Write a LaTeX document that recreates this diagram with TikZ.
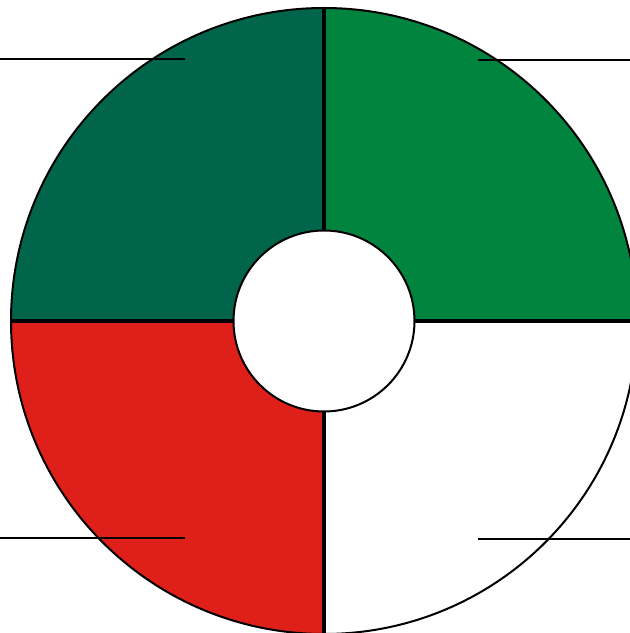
\documentclass[tikz,border=0pt]{standalone}
\usetikzlibrary{calc}
\definecolor{dkgreen}{HTML}{00654A}
\definecolor{ltgreen}{HTML}{00843E}
\definecolor{qred}{HTML}{DE1F1A}
\tikzset{
  rim/.style={draw=black,line width=2pt},
  divider/.style={draw=black,line width=4pt},
  leader/.style={draw=black,line width=1.6pt},
}
\begin{document}
\begin{tikzpicture}[x=1pt,y=1pt]
\useasboundingbox (0,0) rectangle (630,633);
\clip (0,0) rectangle (630,633);
\coordinate (C) at (324,312);
\def\Ro{313}
\def\Ri{90.5}
% quadrants
\fill[dkgreen] (C) -- ++(90:\Ro) arc[start angle=90,end angle=180,radius=\Ro] -- cycle;
\fill[ltgreen] (C) -- ++(0:\Ro) arc[start angle=0,end angle=90,radius=\Ro] -- cycle;
\fill[qred] (C) -- ++(180:\Ro) arc[start angle=180,end angle=270,radius=\Ro] -- cycle;
\fill[white] (C) -- ++(270:\Ro) arc[start angle=270,end angle=360,radius=\Ro] -- cycle;
% outer rim
\draw[rim] (C) circle[radius=\Ro];
% dividers
\foreach \a in {0,90,180,270}{
  \draw[divider] ($(C)+(\a:\Ri)$) -- ($(C)+(\a:\Ro)$);
}
% inner circle
\draw[rim,fill=white] (C) circle[radius=\Ri];
% leader lines
\coordinate (tl1) at (0,574); \coordinate (tl2) at (185,574);
\coordinate (tr1) at (478,573); \coordinate (tr2) at (630,573);
\coordinate (bl1) at (0,95); \coordinate (bl2) at (185,95);
\coordinate (br1) at (478,94); \coordinate (br2) at (630,94);
\draw[leader] (tl1) -- (tl2);
\draw[leader] (tr1) -- (tr2);
\draw[leader] (bl1) -- (bl2);
\draw[leader] (br1) -- (br2);
\end{tikzpicture}
\end{document}
